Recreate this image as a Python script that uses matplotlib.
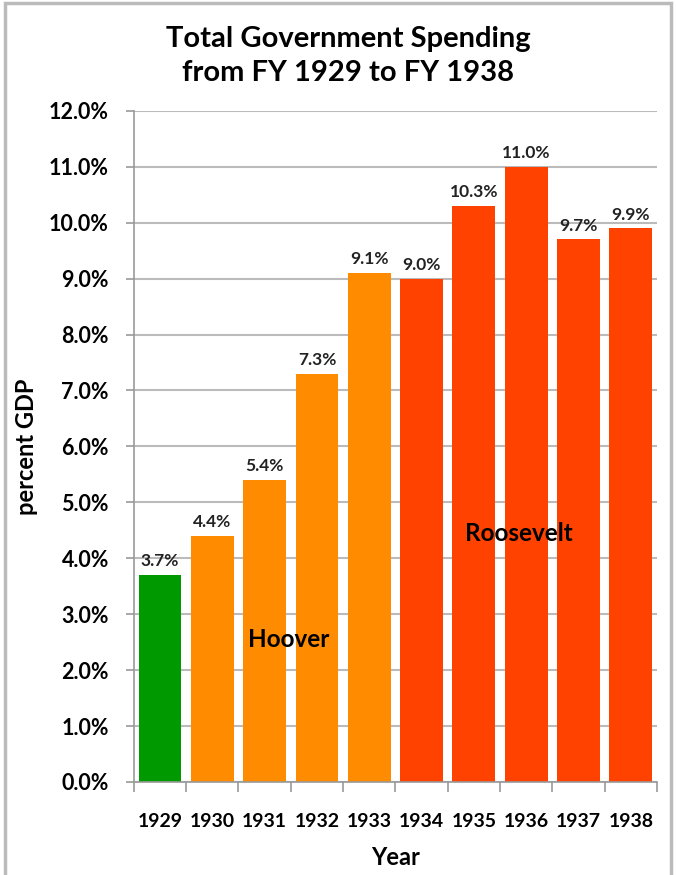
import numpy as np
import matplotlib.pyplot as plt
from matplotlib.patches import Rectangle

plt.rcParams['font.family'] = ['Lato', 'DejaVu Sans']
plt.rcParams['font.weight'] = 'bold'

# data
years = ['1929', '1930', '1931', '1932', '1933', '1934', '1935', '1936', '1937', '1938']
spending = [3.7, 4.4, 5.4, 7.3, 9.1, 9.0, 10.3, 11.0, 9.7, 9.9]
bar_colors = ['#009900'] + ['#FF8C00'] * 4 + ['#FF4200'] * 5

fig = plt.figure(figsize=(6.76, 8.75), dpi=100)
ax = fig.add_axes([0.198, 0.1063, 0.774, 0.767])

x = np.arange(len(years))
bars = ax.bar(x, spending, width=0.82, color=bar_colors, zorder=2)
for xi, v in zip(x, spending):
    ax.text(xi, v + 0.1, f"{v:.1f}%", ha='center', va='bottom', fontsize=12.5,
            fontweight='bold', color='#222222', zorder=3)

ax.text(2.45, 2.55, 'Hoover', ha='center', va='center', fontsize=17.5, fontweight='bold')
ax.text(6.85, 4.45, 'Roosevelt', ha='center', va='center', fontsize=17.5, fontweight='bold')

ax.set_xlim(-0.5, len(years) - 0.5)
ax.set_ylim(0, 12)
ax.set_yticks(np.arange(0, 12.1, 1.0))
ax.set_yticklabels([f"{t:.1f}%" for t in np.arange(0, 12.1, 1.0)], fontsize=15.5, fontweight='bold')
ax.yaxis.grid(True, color='#bbbbbb', linewidth=1.5, zorder=0)
ax.set_axisbelow(True)

# category ticks at boundaries, labels at centres
ax.set_xticks(np.arange(-0.5, len(years), 1.0))
ax.set_xticklabels([])
ax.set_xticks(x, minor=True)
ax.set_xticklabels(years, minor=True, fontsize=14, fontweight='bold')
ax.tick_params(axis='x', which='major', length=7, color='#999999', width=1.2)
ax.tick_params(axis='x', which='minor', length=0, pad=22)
ax.tick_params(axis='y', length=6, color='#999999', width=1.2, pad=12)

for s in ['top', 'right']:
    ax.spines[s].set_visible(False)
for s in ['left', 'bottom']:
    ax.spines[s].set_color('#999999')
    ax.spines[s].set_linewidth(1.2)

ax.set_ylabel('percent GDP', fontsize=17, fontweight='bold', labelpad=8)
ax.set_xlabel('Year', fontsize=17, fontweight='bold', labelpad=12)

fig.text(0.515, 0.936, 'Total Government Spending\nfrom FY 1929 to FY 1938',
         ha='center', va='center', fontsize=21, fontweight='bold', linespacing=1.38)

# outer chart frame
fig.patches.append(Rectangle((0.008, -0.01), 0.984, 1.007, transform=fig.transFigure,
                             fill=False, edgecolor='#bbbbbb', linewidth=2.5))

fig.savefig('out.png', dpi=100)
